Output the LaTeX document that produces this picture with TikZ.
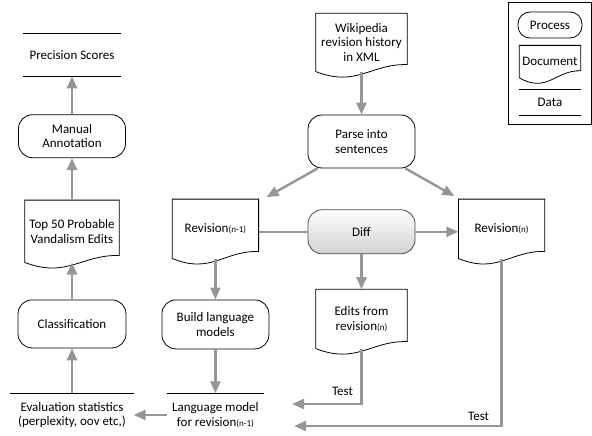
\documentclass[tikz,border=0pt]{standalone}
\usepackage{fontspec}
\setmainfont{Carlito}
\usepackage{xcolor}
\usepackage{tikz}
\usetikzlibrary{arrows.meta,positioning,fit,calc}

\definecolor{flowgray}{RGB}{150,150,150}
\newcommand{\subn}[1]{{\fontsize{9pt}{10pt}\selectfont(#1)}}

\begin{document}
\begin{tikzpicture}[font=\fontsize{13pt}{14.5pt}\selectfont,
    flow/.style={draw=flowgray, line width=2.4pt, -{Triangle[length=12pt,width=10pt]}},
    plain/.style={draw=flowgray, line width=2.4pt}]
        \tikzstyle{process} = [draw, line width=0.8pt, rectangle, rounded corners=14pt, minimum width=107pt, minimum height=44pt, align=center, inner sep=2pt]
        \tikzstyle{doc} = [rectangle, minimum width=86pt, minimum height=59pt, align=center, inner sep=2pt]
        \tikzstyle{data} = [rectangle, minimum width=97pt, minimum height=42pt, align=center, inner sep=2pt]
        \useasboundingbox (0,0) rectangle (592pt,-436pt);

        % middle column
        \node[process, minimum height=53pt] (parse) at (361.5pt,-141.5pt) {Parse into\\sentences};
        \node[doc, above = 43pt of parse, minimum width=91pt, minimum height=58pt] (wiki) {Wikipedia\\revision history\\in XML};
        \node[process, below = 41pt of parse, draw=black!70, top color=white, bottom color=black!18] (diff) {Diff};
        \node[doc, left = 49pt of diff, yshift=3pt] (revold) {Revision\subn{n-1}};
        \node[doc, right = 43pt of diff, yshift=3pt] (revnew) {Revision\subn{n}};
        \node[doc, below = 35pt of diff, minimum width=91pt] (edits) {Edits from\\revision\subn{n}};
        \node[process, below = 41pt of revold, minimum height=49pt] (build) {Build language\\models};
        \node[data, below = 44pt of build, minimum height=43pt] (langmodel) {Language model\\for revision\subn{n-1}};

        % left column
        \node[data, left = 33pt of langmodel, minimum width=123pt, minimum height=43pt] (eval) {Evaluation statistics\\(perplexity, oov etc,)};
        \node[process, above = 45pt of eval, minimum width=108pt, minimum height=48pt] (class) {Classification};
        \node[doc, above = 37pt of class, minimum width=94pt, minimum height=62pt] (top50) {Top 50 Probable\\Vandalism Edits};
        \node[process, above = 42pt of top50, minimum height=43pt] (manual) {Manual\\Annotation};
        \node[data, above = 38pt of manual] (prec) {Precision Scores};

        % legend
        \node[process, rounded corners=12pt, minimum width=64pt, minimum height=26pt] (lproc) at (550pt,-25pt) {Process};
        \node[doc, below = 7pt of lproc, minimum width=61pt, minimum height=32pt] (ldoc) {Document};
        \node[data, below = 12pt of ldoc, minimum width=61pt, minimum height=25pt] (ldata) {Data};
        \node[draw, line width=0.8pt, inner sep=9pt, fit=(lproc)(ldoc)(ldata)] (legend) {};

        % document outlines
        \foreach \n in {wiki,revold,revnew,edits,top50,ldoc}
            \draw[line width=0.8pt] (\n.south west)
                .. controls ($(\n.south west)!0.45!(\n.south east)+(0,-16pt)$)
                and ($(\n.south west)!0.6!(\n.south east)+(0,8pt)$) .. ([yshift=7pt]\n.south east)
                -- (\n.north east) -- (\n.north west) -- cycle;
        % data lines
        \foreach \n in {prec,eval,ldata}
            \draw[line width=0.8pt] (\n.north west) -- (\n.north east) (\n.south west) -- (\n.south east);
        \draw[line width=0.8pt] (langmodel.north west) -- (langmodel.north east);

        \coordinate (t1) at ([xshift=28pt,yshift=11pt]langmodel.east);
        \coordinate (t2) at ([xshift=30pt,yshift=-11pt]langmodel.east);

        \draw[flow] (wiki) -- (parse);
        \draw[flow] ([xshift=10pt]parse.south west) -- ([xshift=8pt,yshift=2pt]revold.north east);
        \draw[flow] ([xshift=-10pt]parse.south east) -- ([xshift=-4pt,yshift=3pt]revnew.north west);
        \draw[plain] (diff.west -| revold.east) -- (diff.west);
        \draw[flow] (diff.east) -- (diff.east -| revnew.west);
        \draw[flow] (diff) -- (edits);
        \draw[flow] (revold) -- (build);
        \draw[flow] (build) -- (langmodel);
        \draw[flow] (langmodel) -- (eval);
        \draw[flow] (eval) -- (class);
        \draw[flow] (class) -- (top50);
        \draw[flow] (top50) -- (manual);
        \draw[flow] (manual) -- (prec);
        \draw[flow] (edits.south) |- node[pos=0.5, above left, xshift=-4pt, yshift=4pt, text=black] {Test} (t1);
        \draw[flow] (revnew.south) |- node[pos=0.5, above left, xshift=-8pt, yshift=1pt, text=black] {Test} (t2);
\end{tikzpicture}
\end{document}
